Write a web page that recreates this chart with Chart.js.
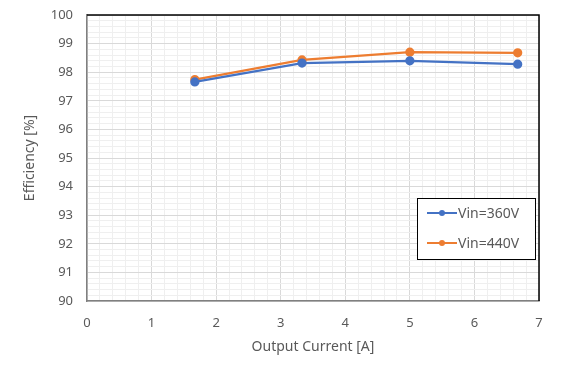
<!DOCTYPE html>
<html>
<head>
<meta charset="utf-8">
<script src="https://cdn.jsdelivr.net/npm/chart.js@4/dist/chart.umd.min.js"></script>
<style>
  html, body { margin: 0; padding: 0; background: #fff; }
  #wrap { width: 574px; height: 373px; }
</style>
</head>
<body>
<div id="wrap"><canvas id="effChart" width="574" height="373"></canvas></div>
<script>
const currents = [1.67, 3.33, 5.0, 6.67];
const eff360 = [97.66, 98.32, 98.4, 98.28];
const eff440 = [97.74, 98.43, 98.7, 98.68];
const seriesNames = ["Vin=360V", "Vin=440V"];

const textColor = "#595959";
const fontFamily = "'Noto Sans', 'DejaVu Sans', sans-serif";

function toPoints(xs, ys) {
  return xs.map((x, i) => ({ x: x, y: ys[i] }));
}

function gridColor(ctx) {
  const v = ctx.tick.value;
  return Math.abs(v - Math.round(v)) < 1e-6 ? "#d9d9d9" : "#efefef";
}

// top/right frame plus the in-plot legend box
const framePlugin = {
  id: "frame",
  afterDraw(chart) {
    const { ctx, chartArea: a } = chart;
    ctx.save();
    ctx.strokeStyle = "#000";
    ctx.lineWidth = 1.5;
    ctx.beginPath();
    ctx.moveTo(a.left, a.top);
    ctx.lineTo(a.right, a.top);
    ctx.lineTo(a.right, a.bottom);
    ctx.stroke();

    const bx = 417, by = 198, bw = 118, bh = 61;
    ctx.fillStyle = "#fff";
    ctx.fillRect(bx, by, bw, bh);
    ctx.lineWidth = 1;
    ctx.strokeRect(bx + 0.5, by + 0.5, bw, bh);
    ctx.font = "14px " + fontFamily;
    ctx.textBaseline = "middle";
    chart.data.datasets.forEach((ds, i) => {
      const y = by + 15 + i * 30;
      ctx.strokeStyle = ds.borderColor;
      ctx.lineWidth = 2;
      ctx.beginPath();
      ctx.moveTo(bx + 10, y);
      ctx.lineTo(bx + 40, y);
      ctx.stroke();
      ctx.fillStyle = ds.borderColor;
      ctx.beginPath();
      ctx.arc(bx + 25, y, 3, 0, Math.PI * 2);
      ctx.fill();
      ctx.fillStyle = textColor;
      ctx.fillText(ds.label, bx + 41, y + 1);
    });
    ctx.restore();
  }
};

new Chart(document.getElementById("effChart"), {
  type: "scatter",
  data: {
    datasets: [
      {
        label: seriesNames[0],
        data: toPoints(currents, eff360),
        showLine: true,
        borderColor: "#4472C4",
        backgroundColor: "#4472C4",
        borderWidth: 2.25,
        pointRadius: 3.5,
      },
      {
        label: seriesNames[1],
        data: toPoints(currents, eff440),
        showLine: true,
        borderColor: "#ED7D31",
        backgroundColor: "#ED7D31",
        borderWidth: 2.25,
        pointRadius: 3.5,
      },
    ],
  },
  plugins: [framePlugin],
  options: {
    responsive: false,
    animation: false,
    layout: { padding: { top: 15, right: 35, left: 0, bottom: 0 } },
    plugins: {
      legend: { display: false },
      tooltip: { enabled: false },
    },
    scales: {
      x: {
        type: "linear",
        min: 0,
        max: 7,
        afterFit(scale) { scale.height = 72; },
        ticks: {
          stepSize: 0.2,
          autoSkip: false,
          maxRotation: 0,
          padding: 0,
          color: textColor,
          font: { family: fontFamily, size: 13 },
          callback: (v) => Math.abs(v - Math.round(v)) < 1e-6 ? Math.round(v) : "",
        },
        grid: { color: gridColor, tickLength: 14, tickColor: "rgba(0,0,0,0)" },
        border: { color: "#808080", width: 1.5 },
        title: {
          display: true,
          text: "Output Current [A]",
          color: textColor,
          font: { family: fontFamily, size: 14 },
          padding: { top: 0, bottom: 18 },
        },
      },
      y: {
        type: "linear",
        min: 90,
        max: 100,
        afterFit(scale) { scale.width = 87; },
        ticks: {
          stepSize: 0.2,
          autoSkip: false,
          padding: 0,
          color: textColor,
          font: { family: fontFamily, size: 13 },
          callback: (v) => Math.abs(v - Math.round(v)) < 1e-6 ? Math.round(v) : "",
        },
        grid: { color: gridColor, tickLength: 14, tickColor: "rgba(0,0,0,0)" },
        border: { color: "#808080", width: 1.5 },
        title: {
          display: true,
          text: "Efficiency [%]",
          color: textColor,
          font: { family: fontFamily, size: 14 },
          padding: { top: 22, bottom: 0 },
        },
      },
    },
  },
});
</script>
</body>
</html>
